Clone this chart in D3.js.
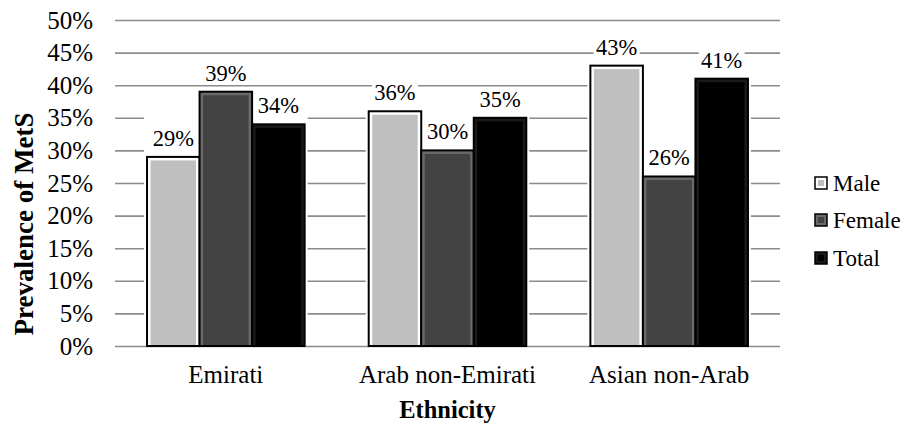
<!DOCTYPE html>
<html>
<head>
<meta charset="utf-8">
<script src="https://cdn.jsdelivr.net/npm/d3@7"></script>
<style>
  html, body { margin: 0; padding: 0; background: #fff; }
  svg { display: block; }
  text { font-family: "Liberation Serif", "Times New Roman", serif; fill: #000; }
</style>
</head>
<body>
<svg id="chart" width="909" height="424"></svg>
<script>
// Prevalence of metabolic syndrome by ethnicity and sex
const categories = ["Emirati", "Arab non-Emirati", "Asian non-Arab"];
const seriesNames = ["Male", "Female", "Total"];
const maleValues = [29, 36, 43];
const femaleValues = [39, 30, 26];
const totalValues = [34, 35, 41];
const yTicks = [0, 5, 10, 15, 20, 25, 30, 35, 40, 45, 50];

const seriesValues = [maleValues, femaleValues, totalValues];
const fillColors = ["#bfbfbf", "#434343", "#000000"];
const rimColors = ["#ffffff", "#6a6a6a", "#1a1a1a"];
const serif = '"Liberation Serif", "Times New Roman", serif';

const svg = d3.select("#chart");
const plot = { left: 115, right: 780, top: 20, bottom: 346 };

const x0 = d3.scaleBand().domain(categories).range([plot.left, plot.right]).padding(0);
const x1 = d3.scaleBand().domain(seriesNames).range([0, x0.bandwidth()])
  .paddingInner(0).paddingOuter(0.61);
const y = d3.scaleLinear().domain([0, 50]).range([plot.bottom, plot.top]);

// Gridlines and y tick labels
const yAxis = d3.axisLeft(y)
  .tickValues(yTicks)
  .tickSize(-(plot.right - plot.left))
  .tickPadding(22)
  .tickFormat(d => d + "%");
const ya = svg.append("g").attr("transform", `translate(${plot.left},0)`).call(yAxis);
ya.attr("font-family", null);
ya.select(".domain").remove();
ya.selectAll(".tick line").attr("stroke", "#8c8c8c").attr("stroke-width", 1.6);
ya.selectAll(".tick text")
  .style("font-family", serif)
  .style("font-size", "25px").attr("fill", "#000");

// Bars
const rows = [];
categories.forEach((c, i) => {
  seriesNames.forEach((s, j) => rows.push({ cat: c, series: s, j, value: seriesValues[j][i] }));
});

const groups = svg.append("g");
// white halo around each cluster of bars
categories.forEach((c, i) => {
  const top = d3.min(seriesValues, v => y(v[i]));
  groups.append("rect")
    .attr("x", x0(c) + x1(seriesNames[0]) - 3)
    .attr("y", top - 3)
    .attr("width", x1.bandwidth() * 3 + 6)
    .attr("height", plot.bottom - top + 2)
    .attr("fill", "#fff");
});

const bar = groups.selectAll("g.bar").data(rows).join("g").attr("class", "bar");
bar.append("rect")
  .attr("x", d => x0(d.cat) + x1(d.series))
  .attr("y", d => y(d.value))
  .attr("width", x1.bandwidth())
  .attr("height", d => y(0) - y(d.value))
  .attr("fill", d => rimColors[d.j])
  .attr("stroke", "#000")
  .attr("stroke-width", 2);
bar.append("rect")
  .attr("x", d => x0(d.cat) + x1(d.series) + 3.5)
  .attr("y", d => y(d.value) + 3.5)
  .attr("width", x1.bandwidth() - 7)
  .attr("height", d => y(0) - y(d.value) - 4.5)
  .attr("fill", d => fillColors[d.j]);

// Value labels with white boxes
const lab = svg.append("g").selectAll("g").data(rows).join("g")
  .attr("transform", d => `translate(${x0(d.cat) + x1(d.series) + x1.bandwidth() / 2},${y(d.value) - 11})`);
lab.append("rect")
  .attr("x", -23).attr("y", -18).attr("width", 46).attr("height", 22)
  .attr("fill", "#fff");
lab.append("text")
  .attr("text-anchor", "middle")
  .style("font-family", serif)
  .style("font-size", "22.5px")
  .text(d => d.value + "%");

// Category labels
svg.append("g").selectAll("text").data(categories).join("text")
  .attr("x", d => x0(d) + x0.bandwidth() / 2)
  .attr("y", 383)
  .attr("text-anchor", "middle")
  .style("font-family", serif)
  .style("font-size", "25px")
  .text(d => d);

// Axis titles
svg.append("text")
  .attr("x", (plot.left + plot.right) / 2)
  .attr("y", 418)
  .attr("text-anchor", "middle")
  .style("font-family", serif)
  .style("font-size", "24.5px").style("font-weight", "bold")
  .text("Ethnicity");
svg.append("text")
  .attr("transform", "translate(33,224) rotate(-90)")
  .attr("text-anchor", "middle")
  .style("font-family", serif)
  .style("font-size", "27px").style("font-weight", "bold")
  .text("Prevalence of MetS");

// Legend
const legend = svg.append("g").attr("transform", "translate(815,0)");
const legY = [183, 220, 258];
const li = legend.selectAll("g").data(seriesNames).join("g")
  .attr("transform", (d, i) => `translate(0,${legY[i]})`);
li.append("rect")
  .attr("x", 0).attr("y", -6).attr("width", 12).attr("height", 12)
  .attr("fill", (d, i) => rimColors[i]).attr("stroke", "#000").attr("stroke-width", 1.5);
li.append("rect")
  .attr("x", 3).attr("y", -3).attr("width", 6).attr("height", 6)
  .attr("fill", (d, i) => fillColors[i]);
li.append("text")
  .attr("x", 18).attr("y", 0).attr("dy", "0.35em")
  .style("font-family", serif)
  .style("font-size", "23px")
  .text(d => d);
</script>
</body>
</html>
